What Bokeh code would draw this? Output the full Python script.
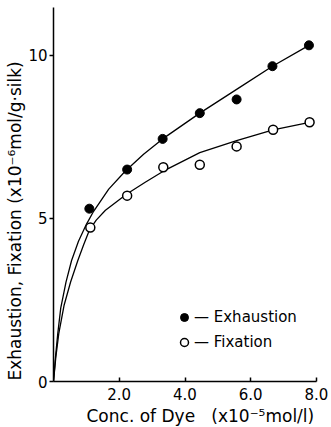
from bokeh.plotting import figure
from bokeh.models import Range1d, FixedTicker, Title, Legend, LegendItem
from bokeh.embed import file_html
from bokeh.resources import INLINE

# ---- data ----
exh_x = [1.09, 2.24, 3.32, 4.45, 5.57, 6.66, 7.77]
exh_y = [5.30, 6.50, 7.44, 8.23, 8.65, 9.67, 10.31]
fix_x = [1.12, 2.24, 3.34, 4.45, 5.57, 6.68, 7.79]
fix_y = [4.72, 5.70, 6.57, 6.65, 7.21, 7.72, 7.95]

# fitted curves as drawn in the reference
exh_curve_x = [0, 0.06, 0.13, 0.22, 0.38, 0.55, 0.76, 1.00, 1.22, 1.68, 2.18, 2.74, 3.32, 4.45, 5.57, 6.66, 7.77]
exh_curve_y = [0, 0.74, 1.47, 2.25, 3.05, 3.71, 4.30, 4.82, 5.22, 5.90, 6.45, 6.97, 7.44, 8.23, 8.96, 9.67, 10.31]
fix_curve_x = [0, 0.07, 0.16, 0.32, 0.52, 0.74, 0.92, 1.10, 1.30, 1.58, 2.23, 2.79, 3.34, 4.45, 5.57, 6.68, 7.79]
fix_curve_y = [0, 0.74, 1.47, 2.33, 3.05, 3.71, 4.20, 4.66, 4.95, 5.25, 5.75, 6.11, 6.45, 7.02, 7.39, 7.72, 7.95]

x_ticks = [2, 4, 6, 8]
x_tick_labels = ["2.0", "4.0", "6.0", "8.0"]
y_ticks = [0, 5, 10]
y_tick_labels = ["0", "5", "10"]

x_title = "Conc. of Dye\u00a0\u00a0\u00a0(x10\u207b\u2075mol/l)"
y_title = "Exhaustion, Fixation (x10\u207b\u2076mol/g\u00b7silk)"
labels = ["Exhaustion", "Fixation"]

FONT = "DejaVu Sans"

p = figure(width=331, height=427, output_backend="svg", toolbar_location=None,
           x_range=Range1d(0, 8.0), y_range=Range1d(0, 11.47),
           min_border_left=53, min_border_right=15, min_border_top=7, min_border_bottom=46)
p.outline_line_color = None
p.xgrid.visible = False
p.ygrid.visible = False
p.background_fill_color = "white"
p.border_fill_color = "white"

# axes
xa = p.xaxis[0]
xa.ticker = FixedTicker(ticks=x_ticks)
xa.major_label_overrides = {t: l for t, l in zip(x_ticks, x_tick_labels)}
xa.major_tick_in = 4
xa.major_tick_out = 0
xa.minor_tick_in = 0
xa.minor_tick_out = 0
xa.axis_line_width = 1.5
xa.major_tick_line_width = 1.5
xa.major_label_text_font = FONT
xa.major_label_text_font_size = "15px"
xa.major_label_text_color = "black"
xa.major_label_standoff = 6

ya = p.yaxis[0]
ya.ticker = FixedTicker(ticks=y_ticks)
ya.major_label_overrides = {t: l for t, l in zip(y_ticks, y_tick_labels)}
ya.major_tick_in = 0
ya.major_tick_out = 4
ya.minor_tick_in = 0
ya.minor_tick_out = 0
ya.axis_line_width = 1.5
ya.major_tick_line_width = 1.5
ya.major_label_text_font = FONT
ya.major_label_text_font_size = "15px"
ya.major_label_text_color = "black"
ya.major_label_standoff = 2

# curves
p.line(exh_curve_x, exh_curve_y, line_color="black", line_width=1.3)
p.line(fix_curve_x, fix_curve_y, line_color="black", line_width=1.3)

# points
r_exh = p.scatter(exh_x, exh_y, marker="circle", size=9, fill_color="black", line_color="black")
r_fix = p.scatter(fix_x, fix_y, marker="circle", size=9, fill_color="white", line_color="black", line_width=1.5)

legend = Legend(items=[LegendItem(label="\u2014\u00a0" + labels[0], renderers=[r_exh]),
                       LegendItem(label="\u2014\u00a0" + labels[1], renderers=[r_fix])],
                location=(121, 29), orientation="vertical",
                border_line_color=None, background_fill_alpha=0,
                padding=0, margin=0, spacing=5,
                glyph_width=20, glyph_height=20, label_height=20, label_standoff=0,
                label_text_font=FONT, label_text_font_size="15px", label_text_color="black")
p.add_layout(legend, "center")

# axis titles as side titles
p.add_layout(Title(text=x_title, align="left", offset=33, standoff=2,
                   text_font=FONT, text_font_size="17px", text_font_style="normal",
                   text_color="black"), "below")
p.add_layout(Title(text=y_title, align="left", offset=1, standoff=1,
                   text_font=FONT, text_font_size="17px", text_font_style="normal",
                   text_color="black"), "left")

open("out.html", "w").write(file_html(p, INLINE))
